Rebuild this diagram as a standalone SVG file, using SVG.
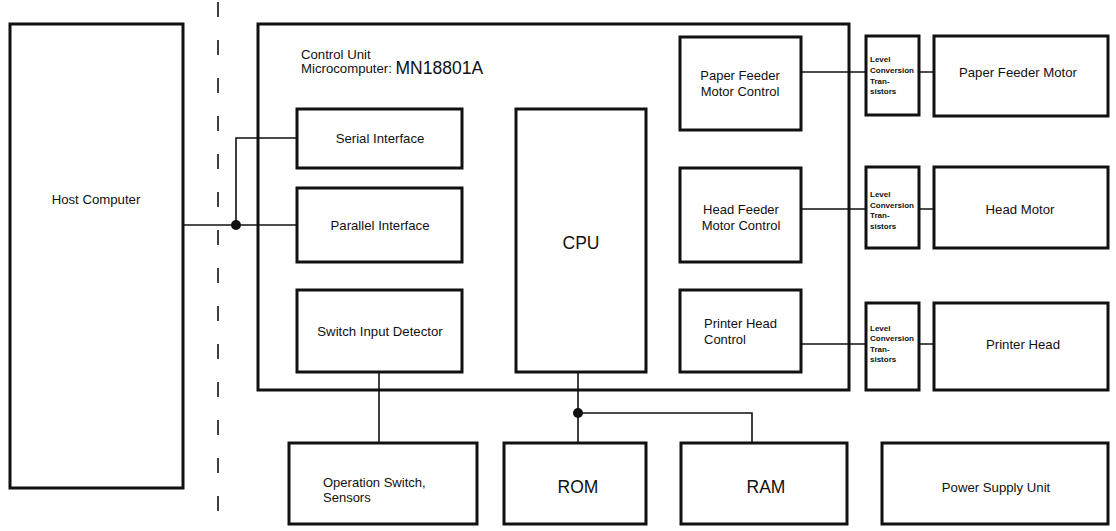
<svg xmlns="http://www.w3.org/2000/svg" width="1116" height="531" viewBox="0 0 1116 531">
<style>
.box{fill:#fff;stroke:#111;stroke-width:3}
.ln{fill:none;stroke:#111;stroke-width:1.6}
.dash{fill:none;stroke:#111;stroke-width:1.6;stroke-dasharray:15 23;stroke-dashoffset:-2}
text{font-family:"Liberation Sans",Arial,sans-serif;fill:#111}
.t12{font-size:13.2px}
.t13{font-size:13px}
.t17{font-size:17.5px}
.t8{font-size:8px;font-weight:bold}
.c{text-anchor:middle}
</style>
<rect width="1116" height="531" fill="#fff"/>
<path class="dash" d="M218 0V531"/>
<g id="host"><rect class="box" x="10" y="24" width="173" height="464"/><text class="t12 c" x="96" y="204">Host Computer</text></g>
<g id="control-unit"><rect class="box" x="258" y="24" width="591" height="366"/>
<text class="t12" x="301" y="59">Control Unit</text>
<text x="301" y="73"><tspan class="t12">Microcomputer: </tspan><tspan class="t17" dy="1">MN18801A</tspan></text></g>
<g id="serial"><rect class="box" x="297" y="109" width="165" height="59"/><text class="t12 c" x="380" y="143">Serial Interface</text></g>
<g id="parallel"><rect class="box" x="297" y="188" width="165" height="74"/><text class="t12 c" x="380" y="230">Parallel Interface</text></g>
<g id="switch-detector"><rect class="box" x="297" y="290" width="165" height="82"/><text class="t12 c" x="380" y="336">Switch Input Detector</text></g>
<g id="cpu"><rect class="box" x="516" y="109" width="130" height="263"/><text class="t17 c" x="581" y="249">CPU</text></g>
<g id="paper-feeder-control"><rect class="box" x="680" y="37" width="121" height="93"/><text class="t13 c" x="740" y="80">Paper Feeder</text><text class="t13 c" x="740" y="96">Motor Control</text></g>
<g id="head-feeder-control"><rect class="box" x="680" y="168" width="121" height="94"/><text class="t13 c" x="741" y="214">Head Feeder</text><text class="t13 c" x="741" y="230">Motor Control</text></g>
<g id="printer-head-control"><rect class="box" x="680" y="290" width="121" height="82"/><text class="t13" x="704" y="328">Printer Head</text><text class="t13" x="704" y="344">Control</text></g>
<g id="level1"><rect class="box" x="866" y="36" width="53" height="79"/><text class="t8" x="870" y="62">Level</text><text class="t8" x="870" y="73">Conversion</text><text class="t8" x="870" y="84">Tran-</text><text class="t8" x="870" y="94">sistors</text></g>
<g id="level2"><rect class="box" x="866" y="167" width="53" height="81"/><text class="t8" x="870" y="197">Level</text><text class="t8" x="870" y="208">Conversion</text><text class="t8" x="870" y="218">Tran-</text><text class="t8" x="870" y="229">sistors</text></g>
<g id="level3"><rect class="box" x="866" y="303" width="53" height="87"/><text class="t8" x="870" y="331">Level</text><text class="t8" x="870" y="341">Conversion</text><text class="t8" x="870" y="352">Tran-</text><text class="t8" x="870" y="362">sistors</text></g>
<g id="paper-feeder-motor"><rect class="box" x="934" y="36" width="174" height="80"/><text class="t12 c" x="1018" y="77">Paper Feeder Motor</text></g>
<g id="head-motor"><rect class="box" x="934" y="167" width="174" height="81"/><text class="t12 c" x="1020" y="214">Head Motor</text></g>
<g id="printer-head"><rect class="box" x="934" y="303" width="174" height="87"/><text class="t12 c" x="1023" y="349">Printer Head</text></g>
<g id="operation-switch"><rect class="box" x="289" y="443" width="188" height="81"/><text class="t13" x="323" y="487">Operation Switch,</text><text class="t13" x="323" y="502">Sensors</text></g>
<g id="rom"><rect class="box" x="504" y="443" width="142" height="81"/><text class="t17 c" x="578" y="493">ROM</text></g>
<g id="ram"><rect class="box" x="681" y="443" width="166" height="81"/><text class="t17 c" x="766" y="493">RAM</text></g>
<g id="power-supply"><rect class="box" x="882" y="443" width="226" height="81"/><text class="t12 c" x="996" y="492">Power Supply Unit</text></g>
<g id="connectors">
<path class="ln" d="M183 225H297"/>
<path class="ln" d="M236 225V138H297"/>
<circle cx="236" cy="225" r="5" fill="#111"/>
<path class="ln" d="M801 72H866M919 72H934"/>
<path class="ln" d="M801 209H866M919 209H934"/>
<path class="ln" d="M801 344H866M919 344H934"/>
<path class="ln" d="M379 372V443"/>
<path class="ln" d="M578 372V443"/>
<path class="ln" d="M578 413H752V443"/>
<circle cx="578" cy="413" r="5" fill="#111"/>
</g>
</svg>
